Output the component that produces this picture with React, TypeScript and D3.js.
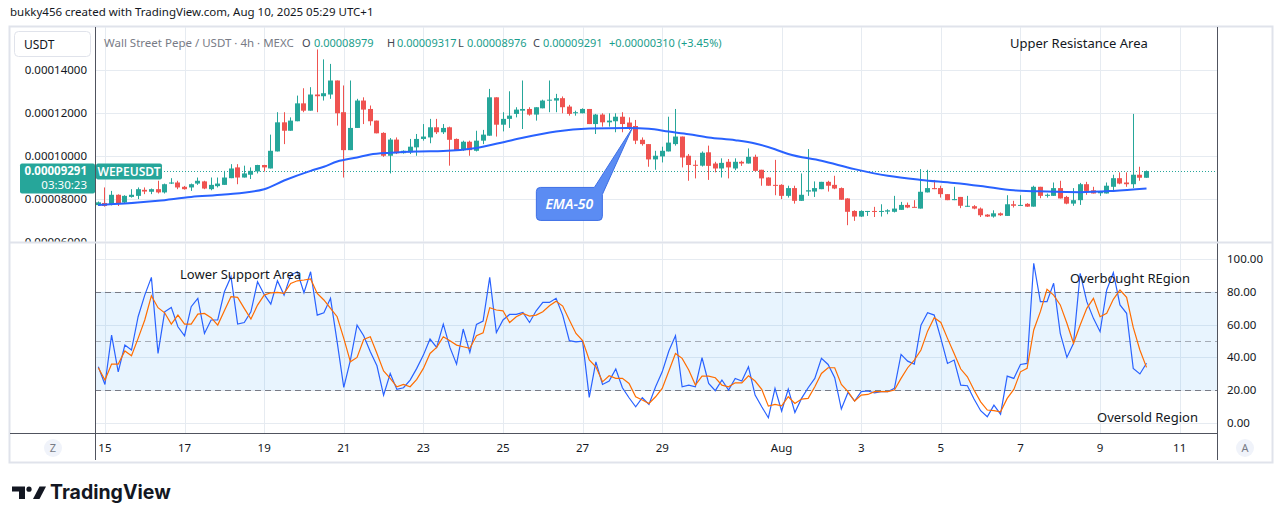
import * as d3 from 'd3';

// 4h bars of WEPE/USDT, first visible bar Jul 14 20:00
const firstBar = Date.UTC(2025, 6, 14, 20);
const barMs = 4 * 3600 * 1000;
const UNIT = 1e-5; // prices below are in 1e-5 USDT

const opens = [
  7.71, 7.81, 7.72, 8.19, 7.83, 8.09, 8.14, 8.42, 8.33, 8.45,
  8.30, 8.71, 8.76, 8.56, 8.53, 8.71, 8.81, 8.45, 8.59, 8.65,
  8.96, 9.46, 8.99, 9.12, 9.27, 9.57, 9.41, 10.20, 11.55, 11.16,
  11.60, 12.43, 12.09, 12.84, 12.76, 12.84, 13.49, 12.02, 10.26, 11.29,
  12.56, 12.17, 11.63, 11.06, 10.00, 10.75, 10.12, 10.16, 10.39, 10.78,
  10.85, 11.32, 11.09, 11.32, 10.78, 10.26, 10.65, 10.23, 10.70, 10.93,
  12.71, 11.44, 11.71, 11.94, 12.09, 12.17, 11.91, 12.20, 12.56, 12.56,
  12.67, 12.28, 11.97, 11.97, 12.17, 11.47, 11.91, 11.55, 11.60, 11.81,
  11.54, 11.38, 10.74, 10.54, 9.83, 9.97, 10.20, 10.54, 10.89, 10.00,
  9.58, 9.54, 10.16, 9.64, 9.41, 9.72, 9.41, 9.72, 9.64, 9.95,
  9.35, 8.99, 8.65, 8.65, 8.14, 8.50, 7.91, 8.34, 8.34, 8.45,
  8.79, 8.65, 8.50, 8.02, 7.44, 7.18, 7.41, 7.44, 7.41, 7.41,
  7.40, 7.49, 7.72, 7.63, 7.55, 8.30, 8.50, 8.50, 8.22, 7.94,
  8.09, 7.64, 7.66, 7.55, 7.27, 7.18, 7.33, 7.21, 7.75, 7.70,
  7.77, 7.64, 8.56, 8.14, 8.14, 8.50, 8.09, 7.78, 7.94, 8.68,
  8.40, 8.26, 8.25, 8.56, 8.96, 8.76, 8.68, 9.12, 8.979,
];
const highs = [
  7.88, 8.53, 8.37, 8.21, 8.17, 8.45, 8.53, 8.53, 8.48, 8.84,
  8.71, 8.96, 8.84, 8.60, 8.71, 8.99, 8.84, 8.99, 8.99, 9.30,
  9.61, 9.61, 9.54, 9.46, 9.58, 9.58, 10.98, 12.02, 12.02, 11.78,
  12.79, 13.13, 13.18, 14.93, 14.47, 14.26, 13.49, 13.26, 13.49, 12.64,
  12.71, 12.33, 11.63, 11.09, 10.82, 10.85, 10.25, 10.78, 11.01, 11.47,
  11.71, 11.71, 11.47, 11.35, 10.80, 10.70, 10.70, 11.16, 11.20, 13.10,
  12.71, 12.02, 12.99, 12.25, 13.49, 12.25, 12.25, 12.60, 13.49, 12.87,
  12.75, 12.36, 12.09, 12.20, 12.17, 11.94, 11.97, 11.97, 11.97, 12.02,
  11.78, 11.66, 10.85, 10.54, 10.23, 10.42, 11.81, 12.17, 10.89, 10.08,
  9.79, 10.20, 10.47, 9.72, 9.88, 9.85, 9.88, 9.77, 10.34, 10.05,
  9.35, 9.00, 9.81, 8.68, 8.61, 8.61, 9.18, 10.31, 8.81, 8.79,
  8.84, 9.07, 8.53, 8.03, 7.47, 7.47, 7.44, 7.63, 7.75, 7.52,
  8.14, 7.86, 7.83, 7.94, 9.38, 9.35, 8.88, 8.61, 8.22, 8.56,
  8.09, 8.14, 7.71, 7.60, 7.29, 7.47, 7.37, 8.17, 7.91, 8.17,
  7.80, 8.61, 8.56, 8.25, 8.76, 8.84, 8.14, 8.50, 8.74, 8.79,
  8.56, 8.37, 8.76, 9.12, 9.23, 9.23, 11.94, 9.49, 9.317,
];
const lows = [
  7.67, 7.64, 7.70, 7.67, 7.81, 8.06, 7.99, 8.22, 8.22, 8.25,
  8.25, 8.69, 8.45, 8.43, 8.37, 8.65, 8.45, 8.40, 8.53, 8.65,
  8.96, 8.68, 8.99, 8.92, 9.18, 9.27, 9.41, 10.20, 10.54, 11.16,
  11.60, 12.02, 12.09, 12.02, 12.56, 12.64, 11.40, 8.99, 10.26, 11.29,
  11.47, 11.40, 11.04, 9.95, 9.18, 10.08, 10.10, 10.08, 10.00, 10.70,
  10.58, 11.01, 11.01, 9.54, 10.24, 10.23, 10.00, 10.20, 10.54, 10.93,
  10.89, 11.13, 11.29, 11.78, 11.24, 11.86, 11.63, 12.20, 12.02, 12.02,
  11.97, 11.86, 11.86, 11.97, 11.47, 11.01, 11.35, 11.35, 11.09, 11.09,
  11.20, 10.54, 10.47, 9.49, 9.35, 9.69, 10.20, 10.47, 9.46, 8.84,
  8.95, 9.50, 8.88, 9.23, 8.99, 8.95, 9.33, 9.53, 9.64, 9.27,
  8.61, 8.61, 8.17, 7.99, 8.06, 7.78, 7.91, 8.14, 8.09, 8.45,
  8.34, 8.45, 7.96, 6.78, 6.98, 7.16, 7.21, 7.16, 7.18, 7.29,
  7.37, 7.49, 7.57, 7.60, 7.55, 8.30, 8.45, 8.06, 7.94, 7.94,
  7.57, 7.63, 7.52, 7.16, 7.16, 7.13, 7.21, 7.21, 7.60, 7.68,
  7.63, 7.64, 8.03, 8.06, 8.14, 8.02, 7.75, 7.68, 7.72, 8.19,
  8.25, 8.14, 8.25, 8.34, 8.68, 8.56, 8.50, 8.84, 8.976,
];
const closes = [
  7.84, 7.67, 8.19, 7.80, 8.14, 8.19, 8.45, 8.34, 8.45, 8.30,
  8.68, 8.76, 8.53, 8.45, 8.68, 8.84, 8.48, 8.65, 8.71, 8.99,
  9.41, 8.99, 9.18, 9.30, 9.57, 9.46, 10.23, 11.55, 11.16, 11.63,
  12.43, 12.09, 12.84, 12.76, 12.90, 13.49, 11.97, 10.26, 11.29, 12.56,
  12.14, 11.60, 11.04, 10.00, 10.75, 10.12, 10.23, 10.42, 10.78, 10.89,
  11.32, 11.09, 11.29, 10.74, 10.26, 10.65, 10.26, 10.70, 10.98, 12.71,
  11.44, 11.71, 11.86, 12.14, 12.17, 11.91, 12.25, 12.56, 12.60, 12.67,
  12.25, 11.94, 12.02, 12.17, 11.47, 11.91, 11.55, 11.63, 11.81, 11.47,
  11.32, 10.70, 10.54, 9.83, 10.00, 10.23, 10.61, 10.89, 9.92, 9.57,
  9.55, 10.14, 9.53, 9.41, 9.67, 9.46, 9.72, 9.64, 9.95, 9.30,
  8.95, 8.61, 8.62, 8.14, 8.50, 7.91, 8.19, 8.40, 8.50, 8.79,
  8.61, 8.48, 7.96, 7.40, 7.18, 7.44, 7.44, 7.41, 7.44, 7.47,
  7.55, 7.72, 7.60, 7.60, 8.33, 8.50, 8.45, 8.22, 7.94, 7.99,
  7.68, 7.68, 7.55, 7.24, 7.18, 7.33, 7.24, 7.75, 7.68, 7.72,
  7.64, 8.56, 8.14, 8.19, 8.50, 8.02, 7.78, 7.94, 8.68, 8.37,
  8.25, 8.34, 8.61, 8.96, 8.71, 8.68, 9.12, 8.981, 9.291,
];

// EMA-50 at a few bars
const emaBars = [0, 4, 9, 14, 19, 25, 28, 32, 34, 36, 39, 41, 44, 48, 52, 57, 62, 69, 74, 80, 83, 86, 89, 92, 96, 99, 102, 104, 109, 114, 119, 124, 129, 133, 138, 143, 148, 153, 158];
const emaValues = [7.72, 7.78, 7.91, 8.09, 8.2, 8.45, 8.85, 9.3, 9.49, 9.73, 9.92, 10.06, 10.14, 10.2, 10.22, 10.36, 10.7, 11.13, 11.26, 11.29, 11.25, 11.12, 11.0, 10.85, 10.72, 10.57, 10.3, 10.08, 9.77, 9.38, 9.07, 8.88, 8.74, 8.6, 8.4, 8.34, 8.31, 8.37, 8.48];

// Stoch RSI
const stochK = [
  34.3, 23.5, 53.6, 31.2, 47.5, 44.5, 64.8, 78, 88.8, 42.4,
  67.8, 70.5, 58.7, 53.2, 70.9, 76, 54.6, 62.8, 62.8, 80,
  89.2, 60.3, 61.3, 67.8, 86.1, 78.4, 72.5, 86.7, 78, 90.2,
  92.2, 79.4, 92.2, 65.8, 67.2, 76, 49.5, 21.7, 38.4, 59.7,
  53.2, 43.4, 34.9, 17, 30.2, 20.5, 21.5, 26.2, 33.3, 41.4,
  51.2, 46.1, 60.3, 46.1, 35.9, 57.3, 43, 60.1, 62.1, 88.8,
  55.2, 62.8, 66.2, 66.2, 67.4, 61.3, 68.4, 73.5, 73.5, 76,
  65.8, 50.2, 49.5, 49.9, 15.6, 37.3, 23.5, 25.6, 32.9, 21.5,
  15.4, 9.9, 15.4, 11.3, 22.1, 31.2, 43.9, 53.2, 22.1, 23.1,
  22.1, 39.8, 24.1, 19.7, 26.2, 20.1, 27.2, 25.6, 34.3, 17,
  9.9, 3.2, 21.1, 7.3, 20.7, 6.4, 15, 21.5, 27.2, 39.4,
  35.7, 27.6, 8.5, 18.6, 13.4, 19.1, 19.5, 18.4, 19.1, 19.1,
  21.1, 41.8, 37.7, 35.9, 59.7, 67.2, 65.8, 51.6, 36.3, 38.4,
  23.1, 22.7, 14.6, 7.5, 3.8, 10.9, 5.4, 28.6, 27.2, 35.7,
  36.3, 97.4, 74, 74, 85.2, 54.7, 40, 48.6, 91.3, 74,
  63.8, 55.7, 81.1, 91.7, 72, 66.9, 33.3, 29.9, 36.4,
];
const stochD = [
  33.7, 26.2, 35.9, 35.9, 43.9, 41, 51.6, 62.8, 77.6, 70.3,
  67.2, 60.3, 65.8, 60.3, 60.3, 66.4, 66.8, 64.2, 59.7, 68.4,
  77, 76.6, 69.9, 63.4, 71.9, 78, 79.4, 79.6, 79, 85.1,
  86.7, 87.2, 87.8, 79, 75, 69.9, 64.8, 51.6, 37.3, 40,
  50.9, 52.6, 42.4, 31.7, 27.2, 22.1, 23.5, 22.1, 26.6, 33.3,
  42.4, 46.1, 52.6, 50.2, 47.5, 46.5, 45.5, 53.2, 55, 70.3,
  68.9, 68.4, 61.3, 64.8, 66.8, 65.2, 65.8, 67.8, 71.5, 74.3,
  71.3, 62.8, 54.6, 50.2, 38.4, 34.3, 25.1, 28.8, 27.2, 27.2,
  24.1, 16, 14, 11.9, 16, 21.1, 31.7, 42.4, 39.4, 32.3,
  23.1, 28.6, 28.6, 27.6, 23.1, 22.1, 24.5, 24.5, 28.8, 25.6,
  20.5, 10.3, 11.3, 10.5, 16, 11.9, 14.6, 15, 22.1, 30.2,
  33.7, 33.7, 23.5, 19.1, 13.4, 17, 17.4, 19.1, 19.1, 19.1,
  20.1, 27.2, 33.7, 38.4, 44.5, 56, 64.2, 61.3, 51.6, 42.4,
  32.9, 28.2, 20.1, 12.9, 7.9, 7.5, 6.8, 15, 20.5, 31.2,
  33.3, 56.7, 67.9, 81.5, 78, 72, 60.8, 48.6, 59.8, 69.9,
  76, 64.8, 66.9, 75.4, 81.1, 76.6, 58.3, 44.5, 33.9,
];

const timeTicks = ['2025-07-15', '2025-07-17', '2025-07-19', '2025-07-21', '2025-07-23', '2025-07-25', '2025-07-27', '2025-07-29', '2025-08-01', '2025-08-03', '2025-08-05', '2025-08-07', '2025-08-09', '2025-08-11'];
const timeLabels = ['15', '17', '19', '21', '23', '25', '27', '29', 'Aug', '3', '5', '7', '9', '11'];
const priceTicks = [6, 8, 10, 12, 14];
const stochTicks = [0, 20, 40, 60, 80, 100];
const stochBands = [80, 50, 20];

const FONT = "'Noto Sans', 'Open Sans', sans-serif";
const UP = '#26a69a';
const DOWN = '#ef5350';
const GRID = '#e6ebf1';

export default function App() {
  const left = 95, right = 1217;
  const topY = 27, sepY = 242.5, botY = 433.5;

  const x = d3.scaleUtc()
    .domain([new Date(Date.UTC(2025, 6, 14, 18)), new Date(Date.UTC(2025, 7, 11, 22, 30))])
    .range([left, right]);
  const yP = d3.scaleLinear().domain([6 * UNIT, 14 * UNIT]).range([242, 69.5]);
  const yS = d3.scaleLinear().domain([0, 100]).range([423, 259]);
  const barX = (i: number) => x(new Date(firstBar + i * barMs));
  const fmt = d3.format('.8f');

  const stochLine = d3.line<number>().x((_, i) => barX(i)).y(d => yS(d));
  const emaLine = d3.line<number>()
    .x((_, i) => barX(emaBars[i]))
    .y(d => yP(d * UNIT))
    .curve(d3.curveMonotoneX);

  const last = closes.length - 1;
  const lastY = yP(closes[last] * UNIT);
  const change = closes[last] - closes[last - 1];

  // EMA-50 callout, pointer tip on the EMA
  const tipX = barX(80.5), tipY = yP(11.29 * UNIT);
  const bx = tipX - 96, by = tipY + 59.5, bw = 66, bh = 33, r = 4;
  const callout = `M${bx + r},${by} L${bx + bw - 8},${by} L${tipX},${tipY} L${bx + bw},${by + 7} L${bx + bw},${by + bh - r} Q${bx + bw},${by + bh} ${bx + bw - r},${by + bh} L${bx + r},${by + bh} Q${bx},${by + bh} ${bx},${by + bh - r} L${bx},${by + r} Q${bx},${by} ${bx + r},${by} Z`;

  return (
    <svg width={1281} height={522} style={{ position: 'absolute', left: 0, top: 0, background: '#fff' }} fontFamily={FONT}>
      <defs>
        <clipPath id="topPane"><rect x={left} y={topY} width={right - left} height={sepY - topY} /></clipPath>
        <clipPath id="botPane"><rect x={left} y={sepY + 1} width={right - left} height={botY - sepY - 1} /></clipPath>
        <clipPath id="priceScale"><rect x={0} y={topY} width={left} height={sepY - 1 - topY} /></clipPath>
      </defs>

      <text x={10} y={15.5} fontSize={11.5} fill="#131722">bukky456 created with TradingView.com, Aug 10, 2025 05:29 UTC+1</text>

      {/* outer frame */}
      <rect x={9.5} y={26.5} width={1263} height={436} fill="none" stroke="#e0e3eb" strokeWidth={2} />

      {/* grid */}
      {timeTicks.map(t => {
        const gx = Math.round(x(new Date(t + 'T00:00:00Z'))) + 0.5;
        return (
          <g key={t}>
            <line x1={gx} x2={gx} y1={topY} y2={sepY - 1} stroke={GRID} />
            <line x1={gx} x2={gx} y1={sepY + 1} y2={botY} stroke={GRID} />
          </g>
        );
      })}
      {priceTicks.map(p => (
        <line key={p} x1={left} x2={right} y1={Math.round(yP(p * UNIT)) + 0.5} y2={Math.round(yP(p * UNIT)) + 0.5} stroke={GRID} />
      ))}
      {stochTicks.map(v => (
        <line key={v} x1={left} x2={right} y1={Math.round(yS(v)) + 0.5} y2={Math.round(yS(v)) + 0.5} stroke={GRID} />
      ))}

      {/* price pane */}
      <g clipPath="url(#topPane)">
        <line x1={left} x2={right} y1={Math.round(lastY) + 0.5} y2={Math.round(lastY) + 0.5} stroke={UP} strokeDasharray="1 2" />
        {closes.map((c, i) => {
          const o = opens[i];
          const col = c >= o ? UP : DOWN;
          const bxl = Math.round(barX(i) - 2.5);
          const yTop = yP(Math.max(o, c) * UNIT);
          const yBot = yP(Math.min(o, c) * UNIT);
          return (
            <g key={i} fill={col}>
              <rect x={bxl + 2} y={yP(highs[i] * UNIT)} width={1} height={yP(lows[i] * UNIT) - yP(highs[i] * UNIT)} />
              <rect x={bxl} y={yTop} width={5} height={Math.max(1, yBot - yTop)} />
            </g>
          );
        })}
        <path d={emaLine(emaValues) || ''} fill="none" stroke="#2962ff" strokeWidth={2} />
        <path d={callout} fill="#5b8cf3" stroke="#3d6fe6" strokeWidth={1} />
        <text x={bx + bw / 2} y={by + bh / 2 + 5} textAnchor="middle" fontSize={14} fontStyle="italic" fontWeight={600} fill="#fff">EMA-50</text>
        <text x={1010} y={47.5} fontSize={13} fill="#131722">Upper Resistance Area</text>
      </g>

      {/* stoch pane */}
      <g clipPath="url(#botPane)">
        <rect x={left} y={yS(80)} width={right - left} height={yS(20) - yS(80)} fill="rgba(33,150,243,0.1)" />
        {stochBands.map(v => (
          <line key={v} x1={left} x2={right} y1={Math.round(yS(v)) + 0.5} y2={Math.round(yS(v)) + 0.5}
            stroke={v === 50 ? 'rgba(120,123,134,0.6)' : '#787b86'} strokeDasharray="6 4" />
        ))}
        <path d={stochLine(stochK) || ''} fill="none" stroke="#2962ff" strokeWidth={1.2} />
        <path d={stochLine(stochD) || ''} fill="none" stroke="#ff6d00" strokeWidth={1.2} />
        <text x={180} y={279} fontSize={13} fill="#131722">Lower Support Area</text>
        <text x={1070} y={283} fontSize={13} fill="#131722">Overbought REgion</text>
        <text x={1097} y={421.5} fontSize={13} fill="#131722">Oversold Region</text>
      </g>

      {/* legend */}
      <rect x={14.5} y={31.5} width={76} height={25} rx={4} fill="#fff" stroke="#e0e3eb" />
      <text x={24} y={48.5} fontSize={12} fill="#131722">USDT</text>
      <text x={104} y={46.5} fontSize={11.5} fill="#787b86">Wall Street Pepe / USDT · 4h · MEXC</text>
      {[
        ['O', opens[last], 302, 314],
        ['H', highs[last], 387, 397],
        ['L', lows[last], 458, 467],
        ['C', closes[last], 533, 543],
      ].map(([k, v, kx, vx]) => (
        <g key={k as string}>
          <text x={kx as number} y={46.5} fontSize={11} fill="#434651">{k as string}</text>
          <text x={vx as number} y={46.5} fontSize={11} fill="#1a9e8c">{fmt((v as number) * UNIT)}</text>
        </g>
      ))}
      <text x={609} y={46.5} fontSize={11} fill="#1a9e8c">
        {`+${fmt(change * UNIT)} (+${d3.format('.2f')(change / closes[last - 1] * 100)}%)`}
      </text>

      {/* axes borders */}
      <line x1={left + 0.5} x2={left + 0.5} y1={topY} y2={460} stroke="#50535e" />
      <line x1={right + 0.5} x2={right + 0.5} y1={topY} y2={460} stroke="#50535e" />
      <line x1={10} x2={right} y1={botY} y2={botY} stroke="#50535e" />
      <line x1={10} x2={1272} y1={sepY} y2={sepY} stroke="#e0e3eb" strokeWidth={2} />

      {/* price scale */}
      <g clipPath="url(#priceScale)">
        {priceTicks.map(p => (
          <text key={p} x={87} y={yP(p * UNIT) + 4} textAnchor="end" fontSize={11.5} fill="#131722">{fmt(p * UNIT)}</text>
        ))}
      </g>
      <rect x={20} y={163.5} width={75} height={30} rx={2} fill={UP} />
      <text x={87} y={Math.round(lastY) + 4} textAnchor="end" fontSize={11.5} fontWeight={700} fill="#fff">{fmt(closes[last] * UNIT)}</text>
      <text x={87} y={189} textAnchor="end" fontSize={11.5} fill="#fff">03:30:23</text>
      <rect x={96} y={163.5} width={66} height={16} rx={2} fill={UP} />
      <text x={129} y={175.5} textAnchor="middle" fontSize={12} fontWeight={600} fill="#fff">WEPEUSDT</text>

      {/* stoch scale */}
      {stochTicks.map(v => (
        <text key={v} x={1227} y={yS(v) + 4} fontSize={11.5} fill="#131722">{d3.format('.2f')(v)}</text>
      ))}

      {/* time scale */}
      {timeTicks.map((t, i) => (
        <text key={t} x={x(new Date(t + 'T00:00:00Z'))} y={451.5} textAnchor="middle" fontSize={11.5} fill="#131722">{timeLabels[i]}</text>
      ))}
      <circle cx={53} cy={448} r={9} fill="#f0f3fa" />
      <text x={53} y={452} textAnchor="middle" fontSize={11} fill="#787b86">Z</text>
      <circle cx={1245} cy={448} r={9} fill="#f0f3fa" />
      <text x={1245} y={452} textAnchor="middle" fontSize={11} fill="#787b86">A</text>

      {/* TradingView logo */}
      <g fill="#131722">
        <path d="M12,486.5 H25 V499 H19 V491.5 H12 Z" />
        <circle cx={29} cy={489.2} r={2.6} />
        <path d="M33,499 L39.5,486.5 H46 L39.5,499 Z" />
      </g>
      <text x={50} y={499} fontSize={19.5} fontWeight={700} fontFamily="Inter, 'Noto Sans', sans-serif" fill="#131722">TradingView</text>
    </svg>
  );
}
